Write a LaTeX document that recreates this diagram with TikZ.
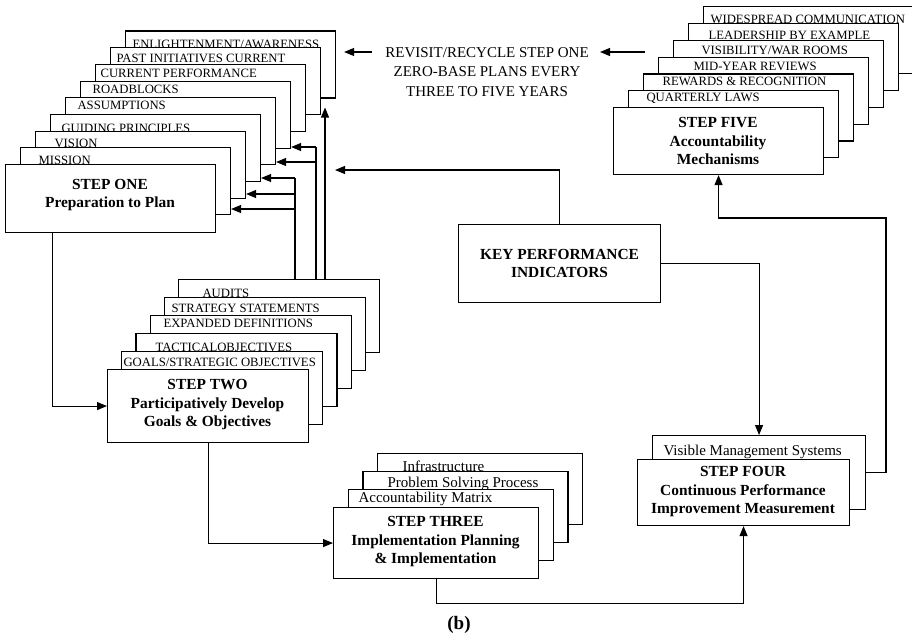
\documentclass[tikz,border=0pt]{standalone}
\usepackage{fontspec}
\setmainfont{Liberation Serif}
\usetikzlibrary{arrows.meta}
\begin{document}
\begin{tikzpicture}[x=1pt,y=-1pt,
  line width=1.1pt,
  card/.style={draw, fill=white, inner sep=0pt, anchor=north west},
  tag/.style={inner sep=0pt, anchor=base west, font=\fontsize{12.7}{14}\selectfont},
  tagl/.style={inner sep=0pt, anchor=base west, font=\fontsize{15}{17}\selectfont},
  steptext/.style={inner sep=0pt, align=center, font=\fontsize{15.4}{18.5}\selectfont\bfseries},
  plaintext/.style={inner sep=0pt, align=center, font=\fontsize{15}{19.5}\selectfont},
  arr/.style={-{Triangle[length=10pt,width=8pt]}}
]
\useasboundingbox (0,0) rectangle (912,637);

% ---------- Step one: preparation cards, back to front ----------
\foreach \k/\tx/\ty/\lab in {8/132/48.5/{ENLIGHTENMENT/AWARENESS},
                             7/116/62/{PAST INITIATIVES CURRENT},
                             6/100/77/{CURRENT PERFORMANCE},
                             5/92/93/{ROADBLOCKS},
                             4/77/109/{ASSUMPTIONS},
                             3/61/132.5/{GUIDING PRINCIPLES},
                             2/54/147.5/{VISION},
                             1/38/164.5/{MISSION}}{
  \node[card, minimum width=210pt, minimum height=67pt] (s1-\k) at ({5+15*\k},{164-16.7*\k}) {};
  \node[tag] (s1t-\k) at (\tx,\ty) {\lab};
}
\node[card, minimum width=210pt, minimum height=68pt] (s1-0) at (5,164) {};
\node[steptext] (s1txt) at (110,195) {STEP ONE\\Preparation to Plan};

% ---------- Step two ----------
\foreach \k/\tx/\ty/\lab in {5/202/297.5/{AUDITS},
                             4/171/312/{STRATEGY STATEMENTS},
                             3/163/327/{EXPANDED DEFINITIONS},
                             2/155/351.5/{TACTICALOBJECTIVES},
                             1/123/366/{GOALS/STRATEGIC OBJECTIVES}}{
  \node[card, minimum width=201pt, minimum height=72.5pt] (s2-\k) at ({107+14.2*\k},{369-18*\k}) {};
  \node[tag] (s2t-\k) at (\tx,\ty) {\lab};
}
\node[card, minimum width=201pt, minimum height=73pt] (s2-0) at (107,369) {};
\node[steptext] (s2txt) at (207.5,405) {STEP TWO\\Participatively Develop\\Goals \& Objectives};

% ---------- Step three ----------
\foreach \k/\tx/\ty/\lab in {3/402/471/{Infrastructure},
                             2/387/487/{Problem Solving Process},
                             1/358/502/{Accountability Matrix}}{
  \node[card, minimum width=205pt, minimum height=71pt] (s3-\k) at ({333+14.7*\k},{507-18*\k}) {};
  \node[tagl] (s3t-\k) at (\tx,\ty) {\lab};
}
\node[card, minimum width=205pt, minimum height=71pt] (s3-0) at (333,507) {};
\node[steptext] (s3txt) at (435.5,542) {STEP THREE\\Implementation Planning\\\& Implementation};

% ---------- Step four ----------
\node[card, minimum width=213pt, minimum height=74pt] (s4l) at (652,435) {};
\node[tagl] (s4t) at (663,455) {Visible Management Systems};
\node[card, minimum width=212pt, minimum height=66pt] (s4f) at (637,459) {};
\node[steptext] (s4txt) at (743,492) {STEP FOUR\\Continuous Performance\\Improvement Measurement};

% ---------- Step five ----------
\foreach \k/\tx/\ty/\lab in {6/710/23.5/{WIDESPREAD COMMUNICATION},
                             5/708/39.5/{LEADERSHIP BY EXAMPLE},
                             4/701/54/{VISIBILITY/WAR ROOMS},
                             3/693/70/{MID-YEAR REVIEWS},
                             2/662/85/{REWARDS \& RECOGNITION},
                             1/646/101/{QUARTERLY LAWS}}{
  \node[card, minimum width=210pt, minimum height=67pt] (s5-\k) at ({613+15*\k},{107-16.8*\k}) {};
  \node[tag] (s5t-\k) at (\tx,\ty) {\lab};
}
\node[card, minimum width=210pt, minimum height=67pt] (s5-0) at (613,107) {};
\node[steptext] (s5txt) at (718,141) {STEP FIVE\\Accountability\\Mechanisms};

% ---------- Key performance indicators ----------
\node[card, minimum width=202pt, minimum height=78pt] (kpi) at (458,224) {};
\node[steptext] (kpitxt) at (kpi.center) {KEY PERFORMANCE\\INDICATORS};

% ---------- Recycle note ----------
\node[plaintext] (recycle) at (487,72) {REVISIT/RECYCLE STEP ONE\\ZERO-BASE PLANS EVERY\\THREE TO FIVE YEARS};
\coordinate (fromfive) at (645,52);
\coordinate (noteR) at (600,52);
\coordinate (noteL) at (372,52);
\draw[arr] (fromfive) -- (noteR);
\draw[arr, shorten >=8pt] (noteL) -- (s1-8.east |- noteL);

% ---------- Main flow ----------
\draw[arr] ([xshift=-58pt]s1-0.south) |- (s2-0.west);
\draw[arr] (s2-0.south) |- (s3-0.west);
\draw[arr] (s3-0.south) -- ([yshift=-24pt]s3-0.south) -| (s4f.south);
\draw[arr] (s4l.east) -| (886,218) -| (s5-0.south);
\draw[arr] (kpi.east) -| (s4l.north);
\coordinate (kpitip) at (335,170);
\draw[arr] (kpi.north) |- (kpitip);

% ---------- Feedback from step two into step one cards ----------
\draw (s2-5.north -| 295,0) -- (295,178);
\draw[arr] (295,178) -- (s1-3.east |- 0,178);
\draw[arr] (295,194) -- (s1-2.east |- 0,194);
\draw[arr] (295,209) -- (s1-1.east |- 0,209);
\draw (s2-5.north -| 316,0) -- (316,147);
\draw[arr] (316,147) -- (s1-5.east |- 0,147);
\draw[arr] (316,162) -- (s1-4.east |- 0,162);
\draw[arr, shorten >=9pt] (s2-5.north -| 325,0) -- (s1-8.south -| 325,0);

% ---------- Caption ----------
\node[inner sep=0pt, font=\fontsize{19}{21}\selectfont\bfseries] (cap) at (459,625) {(b)};
\end{tikzpicture}
\end{document}
